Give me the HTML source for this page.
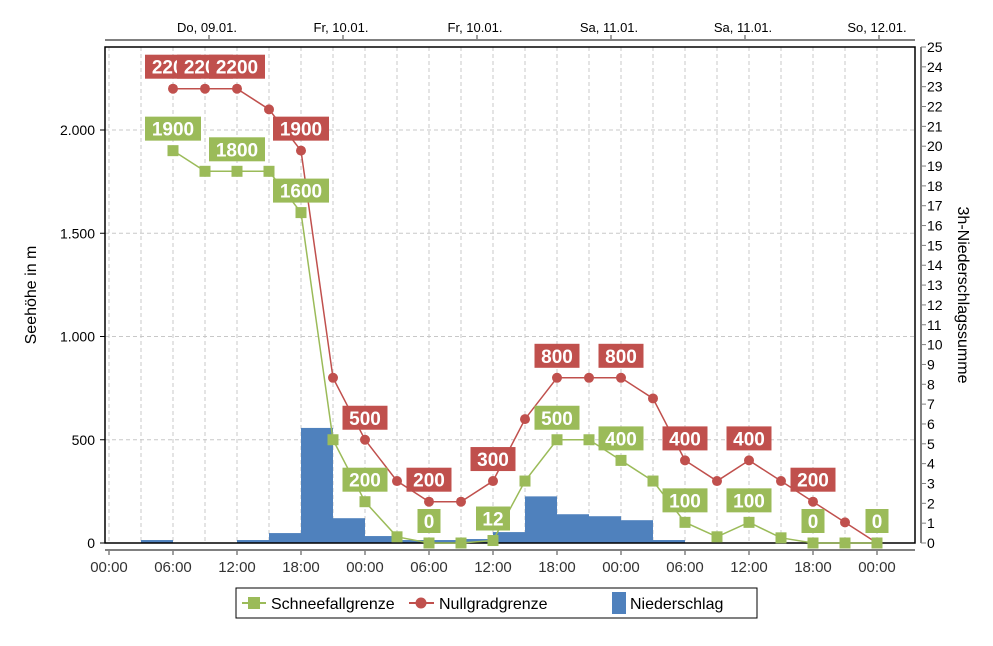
<!DOCTYPE html>
<html><head><meta charset="utf-8"><style>
body{margin:0;background:#fff;font-family:"Liberation Sans",sans-serif}
</style></head><body>
<svg id="c" width="993" height="641" xmlns="http://www.w3.org/2000/svg" font-family="Liberation Sans, sans-serif"></svg>
<script>
const timeLabels=["00:00","06:00","12:00","18:00","00:00","06:00","12:00","18:00","00:00","06:00","12:00","18:00","00:00"];
const dayLabels=["Do, 09.01.","Fr, 10.01.","Fr, 10.01.","Sa, 11.01.","Sa, 11.01.","So, 12.01."];
const leftTicks=[0,500,1000,1500,2000];
const leftTickLabels=["0","500","1.000","1.500","2.000"];
const nullgrad=[2200,2200,2200,2100,1900,800,500,300,200,200,300,600,800,800,800,700,400,300,400,300,200,100,0];
const schnee=[1900,1800,1800,1800,1600,500,200,30,0,0,12,300,500,500,400,300,100,30,100,25,0,0,0];
const precip=[0.15,0,0,0.15,0.5,5.8,1.25,0.35,0.15,0.15,0.2,0.55,2.35,1.45,1.35,1.15,0.15,0,0,0,0,0];
const nullLabelIdx=[0,1,2,4,6,8,10,12,14,16,18,20];
const schneeLabelIdx=[0,2,4,6,8,10,12,14,16,18,20,22];
const NS="http://www.w3.org/2000/svg",svg=document.getElementById('c');
function el(t,a,p){const e=document.createElementNS(NS,t);for(const k in a)e.setAttribute(k,a[k]);(p||svg).appendChild(e);return e;}
const L=105,R=915,T=47,B=543;
const xH=h=>109+h*64/6; // hours from 00:00
const xi=i=>xH(6+3*i);
const yL=v=>B-v*(413/2000);
const yR=v=>B-v*(B-T)/25;
// grid
const g=el('g',{});

for(let h=0;h<=72;h+=6){const l=el('line',{x1:xH(h),x2:xH(h),y1:T,y2:B,stroke:'#c8c8c8','stroke-dasharray':'4,3'},g);}
for(let h=3;h<=72;h+=6){el('line',{x1:xH(h),x2:xH(h),y1:T,y2:B,stroke:'#c8c8c8','stroke-dasharray':'4,3'},g);}
leftTicks.forEach(v=>{if(v>0)el('line',{x1:L,x2:R,y1:yL(v),y2:yL(v),stroke:'#c8c8c8','stroke-dasharray':'4,3'},g);});
// bars
precip.forEach((v,i)=>{if(v<=0)return;const x0=xH(3+3*i);const r=el('rect',{x:x0,y:yR(v),width:64/2,height:B-yR(v),fill:'#4f81bd'});

});
// frame
const fr=el('rect',{x:L,y:T,width:R-L,height:B-T,fill:'none',stroke:'#000','stroke-width':1.5});

// lines
function series(vals,color,marker,name){
 const pl=el('polyline',{points:vals.map((v,i)=>xi(i)+','+yL(v)).join(' '),fill:'none',stroke:color,'stroke-width':1.5});
 
 vals.forEach((v,i)=>{let m;
  if(marker==='c')m=el('circle',{cx:xi(i),cy:yL(v),r:5,fill:color});
  else m=el('rect',{x:xi(i)-5.5,y:yL(v)-5.5,width:11,height:11,fill:color});
  
  });
}
series(nullgrad,'#c0504d','c','nullgrad');
series(schnee,'#9bbb59','s','schnee');
function label(i,v,text,color,name){
 const w=text.length*11+12,x=xi(i),y=yL(v)-22;
 const gg=el('g',{});
 
 
 el('rect',{x:x-w/2,y:y-12,width:w,height:24,fill:color},gg);
 const t=el('text',{x:x,y:y+7,'text-anchor':'middle','font-size':19,'font-weight':'bold',fill:'#fff'},gg);t.textContent=text;
}
nullLabelIdx.forEach(i=>label(i,nullgrad[i],String(nullgrad[i]),'#c0504d','nullgrad-label'));
schneeLabelIdx.forEach(i=>label(i,schnee[i],String(schnee[i]),'#9bbb59','schnee-label'));
// bottom axis
el('line',{x1:L,x2:R,y1:550,y2:550,stroke:'#808080','stroke-width':2});
timeLabels.forEach((s,k)=>{const x=xH(6*k);el('line',{x1:x,x2:x,y1:550,y2:555,stroke:'#808080','stroke-width':1.5});
 const t=el('text',{x:x,y:572,'text-anchor':'middle','font-size':15,fill:'#333'});t.textContent=s;
 });
// top axis
el('line',{x1:L,x2:R,y1:40,y2:40,stroke:'#808080','stroke-width':2});
dayLabels.forEach((s,k)=>{const x=209+134*k;el('line',{x1:x,x2:x,y1:35,y2:40,stroke:'#808080','stroke-width':1.5});
 const t=el('text',{x:x-2,y:32,'text-anchor':'middle','font-size':13,fill:'#000'});t.textContent=s;
 });
// left axis
leftTicks.forEach((v,k)=>{el('line',{x1:L-5,x2:L,y1:yL(v),y2:yL(v),stroke:'#000'});
 const t=el('text',{x:L-10,y:yL(v)+5,'text-anchor':'end','font-size':14,fill:'#000'});t.textContent=leftTickLabels[k];
 });
const yt=el('text',{x:0,y:0,transform:'translate(36,295) rotate(-90)','text-anchor':'middle','font-size':16,fill:'#000'});yt.textContent='Seehöhe in m';

// right axis
el('line',{x1:921,x2:921,y1:T,y2:B,stroke:'#808080','stroke-width':2});
for(let v=0;v<=25;v++){el('line',{x1:921,x2:926,y1:yR(v),y2:yR(v),stroke:'#808080'});
 const t=el('text',{x:927,y:yR(v)+5,'font-size':14,fill:'#000'});t.textContent=v;
 }
const y2=el('text',{x:0,y:0,transform:'translate(958,295) rotate(90)','text-anchor':'middle','font-size':16,fill:'#000'});y2.textContent='3h-Niederschlagssumme';

// legend
const lg=el('g',{});

el('rect',{x:236,y:588,width:521,height:30,fill:'#fff',stroke:'#000'},lg);
function entry(x,w,name,draw){const e=el('g',{},lg);draw(e);
 const t=el('text',{x:x,y:609,'font-size':16,fill:'#000'},e);t.textContent=name;}
entry(271,0,'Schneefallgrenze',e=>{el('line',{x1:242,x2:266,y1:603,y2:603,stroke:'#9bbb59','stroke-width':2},e);el('rect',{x:248,y:597,width:12,height:12,fill:'#9bbb59'},e);});
entry(439,0,'Nullgradgrenze',e=>{el('line',{x1:409,x2:434,y1:603,y2:603,stroke:'#c0504d','stroke-width':2},e);el('circle',{cx:421,cy:603,r:5.5,fill:'#c0504d'},e);});
entry(630,0,'Niederschlag',e=>{el('rect',{x:612,y:592,width:14,height:22,fill:'#4f81bd'},e);});
</script>
</body></html>
